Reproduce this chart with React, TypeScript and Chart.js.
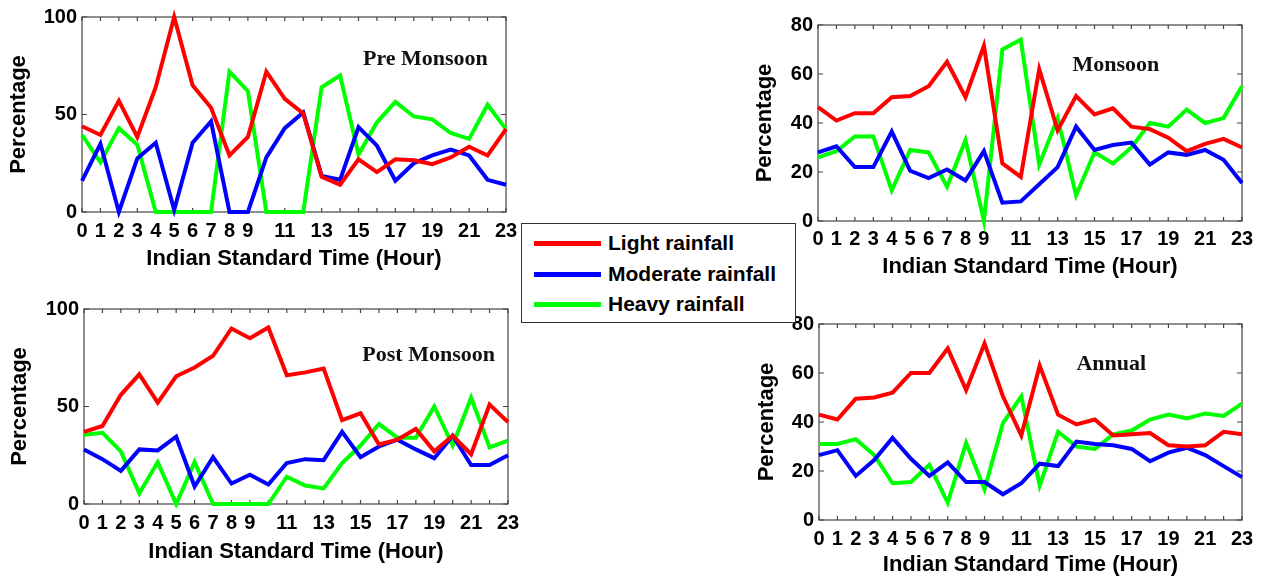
import React, { useEffect, useRef } from 'react';
import { Chart, registerables } from 'chart.js';

Chart.register(...registerables);

// ---------- data ----------
const hours = ['0', '1', '2', '3', '4', '5', '6', '7', '8', '9', '10', '11', '12', '13', '14', '15', '16', '17', '18', '19', '20', '21', '22', '23'];
const xTickLabels = ['0', '1', '2', '3', '4', '5', '6', '7', '8', '9', '', '11', '', '13', '', '15', '', '17', '', '19', '', '21', '', '23'];

const seriesNames = ['Light rainfall', 'Moderate rainfall', 'Heavy rainfall'];
const seriesColors = ['#ff0000', '#0000ff', '#00ff00'];

const preLight = [44, 39.5, 57, 38.5, 64, 100, 65, 53.5, 29, 38.5, 72, 58, 50.5, 18, 14, 27, 20.5, 27, 26.5, 24.5, 28, 33.5, 29, 42.5];
const preModerate = [16, 35, 0, 27.5, 35.5, 1, 35.5, 46.5, 0, 0, 28, 43, 51, 18.5, 16.5, 43.5, 34, 16, 25, 29, 32, 29, 16.5, 14];
const preHeavy = [39.5, 25.5, 43, 34.5, 0, 0, 0, 0, 72, 62, 0, 0, 0, 64, 70, 29.5, 46, 56.5, 49, 47.5, 40.5, 37.5, 55, 42.5];

const monLight = [46.5, 41, 44, 44, 50.5, 51, 55, 65, 50.5, 71.5, 23.5, 18, 62, 37, 51, 43.5, 46, 38.5, 37.5, 34, 28.5, 31.5, 33.5, 30];
const monModerate = [28, 30.5, 22, 22, 36.5, 20.5, 17.5, 21, 16.5, 28.5, 7.5, 8, 15, 22, 38.5, 29, 31, 32, 23, 28, 27, 29, 25, 15.5];
const monHeavy = [26, 28.5, 34.5, 34.5, 12.5, 29, 28, 14, 33, 0, 70, 74, 23, 42, 10.5, 28, 23.5, 30, 40, 38.5, 45.5, 40, 42, 55];

const postLight = [37, 40, 56, 66.5, 52, 65.5, 70, 76, 90, 85, 90.5, 66, 67.5, 69.5, 43, 46.5, 30.5, 33, 38.5, 27, 35, 25.5, 51, 42];
const postModerate = [28, 23, 17, 28, 27.5, 34.5, 9, 24, 10.5, 15, 10, 21, 23, 22.5, 37, 24, 29.5, 33, 28, 23.5, 35, 20, 20, 25];
const postHeavy = [35.5, 36.5, 27, 5.5, 21.5, 0, 21.5, 0, 0, 0, 0, 14, 9.5, 8, 21, 30, 41, 34, 34, 50, 30, 54.5, 29, 32.5];

const annLight = [43, 41, 49.5, 50, 52, 60, 60, 70, 53, 72, 50.5, 34.5, 63, 43, 39, 41, 34.5, 35, 35.5, 30.5, 30, 30.5, 36, 35];
const annModerate = [26.5, 28.5, 18, 24.5, 33.5, 25, 18, 23.5, 15.5, 15.5, 10.5, 15, 23, 22, 32, 31, 30.5, 29, 24, 27.5, 29.5, 26.5, 22, 17.5];
const annHeavy = [31, 31, 33, 26.5, 15, 15.5, 22.5, 7, 31.5, 12.5, 39.5, 50.5, 14, 36, 30, 29, 35, 36.5, 41, 43, 41.5, 43.5, 42.5, 47.5];

// ---------- layout constants ----------
const Y_AXIS_W = 82;
const PAD_TOP = 20;
const PAD_RIGHT = 20;
const X_AXIS_H = 64;
const SANS = "'Liberation Sans', Arial, sans-serif";
const SERIF = "'Liberation Serif', 'Times New Roman', serif";

const panelPlugin = {
  id: 'panelDeco',
  beforeDatasetsDraw(chart: any) {
    const { ctx, chartArea: a, scales } = chart;
    ctx.save();
    ctx.strokeStyle = '#444';
    ctx.lineWidth = 1.2;
    ctx.strokeRect(a.left, a.top, a.right - a.left, a.bottom - a.top);
    ctx.beginPath();
    const n = chart.data.labels.length;
    for (let i = 0; i < n; i++) {
      const x = scales.x.getPixelForValue(i);
      ctx.moveTo(x, a.bottom);
      ctx.lineTo(x, a.bottom - 4);
      ctx.moveTo(x, a.top);
      ctx.lineTo(x, a.top + 4);
    }
    scales.y.ticks.forEach((t: any) => {
      const y = scales.y.getPixelForValue(t.value);
      ctx.moveTo(a.left, y);
      ctx.lineTo(a.left + 5, y);
      ctx.moveTo(a.right, y);
      ctx.lineTo(a.right - 5, y);
    });
    ctx.stroke();
    ctx.restore();
  },
  afterDraw(chart: any, _args: any, opts: any) {
    if (!opts || !opts.text) return;
    const { ctx, scales } = chart;
    ctx.save();
    ctx.font = `bold 22px ${SERIF}`;
    ctx.fillStyle = '#111';
    ctx.textAlign = 'left';
    ctx.textBaseline = 'middle';
    ctx.fillText(opts.text, scales.x.getPixelForValue(opts.x), scales.y.getPixelForValue(opts.y));
    ctx.restore();
  },
};

type PanelProps = {
  plotLeft: number;
  plotTop: number;
  plotW: number;
  plotH: number;
  yMax: number;
  yStep: number;
  light: number[];
  moderate: number[];
  heavy: number[];
  title: string;
  titleX: number;
  titleY: number;
  yTitlePad: number;
  xTitlePad: number;
  xTickPad: number;
};

function Panel(p: PanelProps) {
  const ref = useRef<HTMLCanvasElement>(null);
  const cw = Y_AXIS_W + p.plotW + PAD_RIGHT;
  const ch = PAD_TOP + p.plotH + X_AXIS_H;

  useEffect(() => {
    const canvas = ref.current;
    if (!canvas) return;
    const values = [p.light, p.moderate, p.heavy];
    const chart = new Chart(canvas, {
      type: 'line',
      data: {
        labels: hours,
        datasets: values.map((d, i) => ({
          label: seriesNames[i],
          data: d,
          borderColor: seriesColors[i],
          backgroundColor: seriesColors[i],
          borderWidth: 4,
          pointRadius: 0,
          tension: 0,
          fill: false,
          clip: false as any,
        })),
      },
      options: {
        animation: false,
        responsive: false,
        maintainAspectRatio: false,
        events: [],
        layout: { padding: { left: 0, top: PAD_TOP, right: PAD_RIGHT, bottom: 0 } },
        plugins: {
          legend: { display: false },
          tooltip: { enabled: false },
          panelDeco: { text: p.title, x: p.titleX, y: p.titleY },
        } as any,
        scales: {
          x: {
            type: 'category',
            offset: false,
            grid: { display: false, drawTicks: false },
            border: { display: false },
            ticks: {
              autoSkip: false,
              maxRotation: 0,
              minRotation: 0,
              padding: p.xTickPad,
              color: '#000',
              font: { family: SANS, size: 20, weight: 'bold' },
              callback: (_v: any, i: number) => xTickLabels[i],
            },
            title: {
              display: true,
              text: 'Indian Standard Time (Hour)',
              color: '#000',
              font: { family: SANS, size: 22, weight: 'bold' },
              padding: { top: 0, bottom: p.xTitlePad },
            },
            afterFit: (s: any) => {
              s.height = X_AXIS_H;
            },
          },
          y: {
            min: 0,
            max: p.yMax,
            grid: { display: false, drawTicks: false },
            border: { display: false },
            ticks: {
              stepSize: p.yStep,
              padding: 5,
              color: '#000',
              font: { family: SANS, size: 20, weight: 'bold' },
            },
            title: {
              display: true,
              text: 'Percentage',
              color: '#000',
              font: { family: SANS, size: 22, weight: 'bold' },
              padding: { top: p.yTitlePad, bottom: 0 },
            },
            afterFit: (s: any) => {
              s.width = Y_AXIS_W;
            },
          },
        },
      } as any,
      plugins: [panelPlugin],
    });
    return () => chart.destroy();
  }, []);

  return (
    <canvas
      ref={ref}
      width={cw}
      height={ch}
      style={{ position: 'absolute', left: p.plotLeft - Y_AXIS_W, top: p.plotTop - PAD_TOP, width: cw, height: ch }}
    />
  );
}

function Legend() {
  const rows = [19, 50, 80];
  return (
    <div
      style={{
        position: 'absolute',
        left: 521,
        top: 223,
        width: 275,
        height: 100,
        boxSizing: 'border-box',
        border: '1px solid #333',
        background: '#fff',
        zIndex: 5,
      }}
    >
      {seriesNames.map((name, i) => (
        <React.Fragment key={name}>
          <div
            style={{
              position: 'absolute',
              left: 12,
              top: rows[i] - 2.5,
              width: 67,
              height: 5,
              background: seriesColors[i],
            }}
          />
          <div
            style={{
              position: 'absolute',
              left: 86,
              top: rows[i] - 13,
              height: 26,
              lineHeight: '26px',
              fontFamily: SANS,
              fontWeight: 'bold',
              fontSize: 21,
              color: '#000',
              whiteSpace: 'nowrap',
            }}
          >
            {name}
          </div>
        </React.Fragment>
      ))}
    </div>
  );
}

export default function App() {
  return (
    <div
      style={{
        position: 'fixed',
        left: 0,
        top: 0,
        width: 1266,
        height: 580,
        background: '#fff',
        overflow: 'hidden',
      }}
    >
      <Panel plotLeft={82} plotTop={17} plotW={424} plotH={195} yMax={100} yStep={50}
        light={preLight} moderate={preModerate} heavy={preHeavy}
        title="Pre Monsoon" titleX={15.24} titleY={78.5} yTitlePad={5.3} xTitlePad={3.8} xTickPad={7} />
      <Panel plotLeft={818} plotTop={25} plotW={424} plotH={196} yMax={80} yStep={20}
        light={monLight} moderate={monModerate} heavy={monHeavy}
        title="Monsoon" titleX={13.8} titleY={63.7} yTitlePad={15.8} xTitlePad={4.8} xTickPad={6} />
      <Panel plotLeft={84} plotTop={309} plotW={424} plotH={195} yMax={100} yStep={50}
        light={postLight} moderate={postModerate} heavy={postHeavy}
        title="Post Monsoon" titleX={15.1} titleY={76.4} yTitlePad={4.8} xTitlePad={2.8} xTickPad={7} />
      <Panel plotLeft={819} plotTop={324} plotW={423} plotH={196} yMax={80} yStep={20}
        light={annLight} moderate={annModerate} heavy={annHeavy}
        title="Annual" titleX={14.0} titleY={63.7} yTitlePad={16.3} xTitlePad={5.8} xTickPad={7} />
      <Legend />
    </div>
  );
}
